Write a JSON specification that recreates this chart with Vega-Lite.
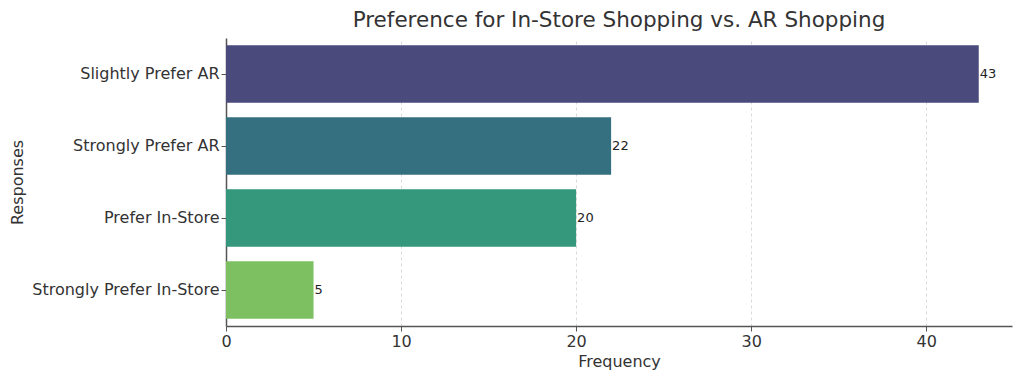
{
  "$schema": "https://vega.github.io/schema/vega-lite/v6.json",
  "autosize": {"type": "none"},
  "width": 786,
  "height": 288,
  "padding": {"left": 226, "top": 38, "right": 1, "bottom": 50},
  "background": "white",
  "config": {
    "view": {"stroke": null},
    "font": "DejaVu Sans"
  },
  "title": {
    "text": "Preference for In-Store Shopping vs. AR Shopping",
    "font": "DejaVu Sans",
    "fontSize": 21.5,
    "fontWeight": "normal",
    "color": "#333333",
    "anchor": "middle",
    "offset": 7
  },
  "data": {
    "values": [
      {"response": "Slightly Prefer AR", "count": 43},
      {"response": "Strongly Prefer AR", "count": 22},
      {"response": "Prefer In-Store", "count": 20},
      {"response": "Strongly Prefer In-Store", "count": 5}
    ]
  },
  "encoding": {
    "y": {
      "field": "response",
      "type": "nominal",
      "sort": null,
      "title": "Responses",
      "scale": {"paddingInner": 0.2, "paddingOuter": 0.1},
      "axis": {
        "labelFont": "DejaVu Sans",
        "labelFontSize": 16,
        "labelColor": "#333333",
        "labelLimit": 400,
        "titleFont": "DejaVu Sans",
        "titleFontSize": 16,
        "titleFontWeight": "normal",
        "titleColor": "#333333",
        "titlePadding": 6,
        "domainColor": "#555555",
        "domainWidth": 1.5,
        "tickColor": "#555555",
        "tickSize": 5,
        "labelPadding": 2
      }
    },
    "x": {
      "field": "count",
      "type": "quantitative",
      "title": "Frequency",
      "scale": {"domain": [0, 44.9], "nice": false},
      "axis": {
        "values": [0, 10, 20, 30, 40],
        "labelFlush": false,
        "labelFont": "DejaVu Sans",
        "labelFontSize": 16,
        "labelColor": "#333333",
        "titleFont": "DejaVu Sans",
        "titleFontSize": 16,
        "titleFontWeight": "normal",
        "titleColor": "#333333",
        "titlePadding": 4,
        "domainColor": "#555555",
        "domainWidth": 1.5,
        "tickColor": "#555555",
        "tickSize": 5,
        "labelPadding": 2,
        "grid": true,
        "gridDash": [3, 3],
        "gridColor": "#d0d0d0",
        "gridWidth": 0.8
      }
    }
  },
  "layer": [
    {
      "mark": {"type": "bar"},
      "encoding": {
        "color": {
          "field": "response",
          "type": "nominal",
          "sort": null,
          "legend": null,
          "scale": {
            "domain": ["Slightly Prefer AR", "Strongly Prefer AR", "Prefer In-Store", "Strongly Prefer In-Store"],
            "range": ["#4a4a7c", "#357080", "#35977b", "#7dc061"]
          }
        }
      }
    },
    {
      "mark": {"type": "text", "align": "left", "baseline": "middle", "dx": 1, "fontSize": 13, "color": "#222222", "font": "DejaVu Sans"},
      "encoding": {
        "text": {"field": "count", "type": "quantitative"}
      }
    }
  ]
}
